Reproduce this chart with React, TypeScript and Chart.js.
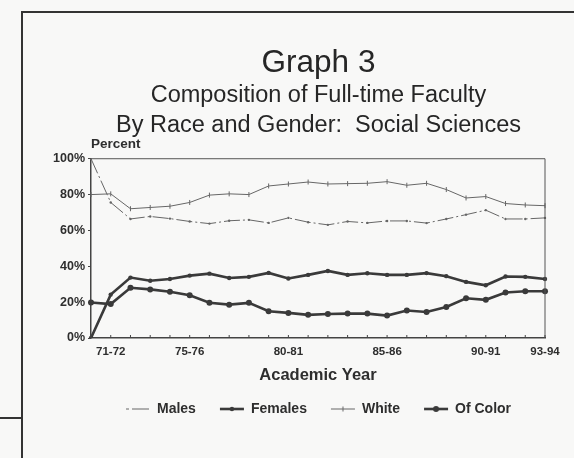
import React, { useEffect, useRef } from 'react';
import { Chart, registerables } from 'chart.js';

Chart.register(...registerables);

// ---------- data ----------
const YEARS = [
  '70-71', '71-72', '72-73', '73-74', '74-75', '75-76', '76-77', '77-78',
  '78-79', '79-80', '80-81', '81-82', '82-83', '83-84', '84-85', '85-86',
  '86-87', '87-88', '88-89', '89-90', '90-91', '91-92', '92-93', '93-94',
];
const SHOWN_YEAR_LABELS = ['71-72', '75-76', '80-81', '85-86', '90-91', '93-94'];

const MALES = [100, 75.6, 66.4, 67.8, 66.6, 65.0, 63.8, 65.4, 65.9, 64.2, 67.0, 64.6, 63.1, 65.0, 64.2, 65.3, 65.3, 64.1, 66.4, 68.8, 71.3, 66.4, 66.4, 67.0];
const FEMALES = [0, 24.2, 33.7, 31.9, 32.9, 34.8, 35.9, 33.5, 34.1, 36.3, 33.2, 35.2, 37.4, 35.2, 36.1, 35.2, 35.2, 36.2, 34.5, 31.3, 29.4, 34.3, 34.1, 32.9];
const WHITE = [80, 80.4, 72.1, 72.8, 73.5, 75.6, 79.7, 80.4, 80.0, 84.8, 85.9, 87.0, 85.9, 86.1, 86.3, 87.2, 85.2, 86.3, 82.8, 78.1, 78.9, 75.0, 74.2, 73.8];
const OF_COLOR = [19.8, 18.9, 28.0, 27.1, 25.8, 23.8, 19.7, 18.6, 19.6, 14.9, 14.0, 12.9, 13.4, 13.6, 13.6, 12.5, 15.3, 14.5, 17.3, 22.2, 21.3, 25.4, 26.1, 26.1];

const SERIES_NAMES = ['Males', 'Females', 'White', 'Of Color'];
const Y_MIN = 0;
const Y_MAX = 100;
const Y_STEP = 20;

const TITLE = 'Graph 3';
const SUBTITLE = ['Composition of Full-time Faculty', 'By Race and Gender:  Social Sciences'];
const X_TITLE = 'Academic Year';
const Y_CAPTION = 'Percent';

// ---------- styling ----------
const FONT = '"Liberation Sans", Arial, Helvetica, sans-serif';
const INK = '#2e2e2e';
const THICK = '#3a3a3a';
const THIN = '#666666';

type IconSpec = { dash: number[]; width: number; color: string; marker: 'none' | 'circle' | 'cross'; r: number };

function makeIcon(s: IconSpec): HTMLCanvasElement {
  const c = document.createElement('canvas');
  c.width = 26;
  c.height = 10;
  const ctx = c.getContext('2d')!;
  ctx.strokeStyle = s.color;
  ctx.lineWidth = s.width;
  ctx.setLineDash(s.dash);
  ctx.beginPath();
  ctx.moveTo(1, 5);
  ctx.lineTo(25, 5);
  ctx.stroke();
  ctx.setLineDash([]);
  if (s.marker === 'circle') {
    ctx.fillStyle = s.color;
    ctx.beginPath();
    ctx.arc(13, 5, s.r, 0, Math.PI * 2);
    ctx.fill();
  } else if (s.marker === 'cross') {
    ctx.lineWidth = 1;
    ctx.beginPath();
    ctx.moveTo(13, 5 - s.r);
    ctx.lineTo(13, 5 + s.r);
    ctx.stroke();
  }
  return c;
}

const framePlugin = {
  id: 'scanFrame',
  afterDatasetsDraw(chart: any) {
    const { ctx, chartArea, scales } = chart;
    const { left, right, top, bottom } = chartArea;
    ctx.save();
    ctx.strokeStyle = '#555';
    ctx.lineWidth = 1;
    ctx.beginPath();
    ctx.moveTo(left, top);
    ctx.lineTo(right, top);
    ctx.lineTo(right, bottom);
    ctx.stroke();
    // inward tick marks on the x axis, one per academic year
    ctx.strokeStyle = '#444';
    ctx.beginPath();
    for (let i = 0; i < YEARS.length; i++) {
      const px = scales.x.getPixelForValue(i);
      ctx.moveTo(px, bottom);
      ctx.lineTo(px, bottom - 3);
    }
    ctx.stroke();
    // "Percent" caption above the y axis
    ctx.font = `bold 13.5px ${FONT}`;
    ctx.fillStyle = INK;
    ctx.textBaseline = 'middle';
    ctx.textAlign = 'left';
    ctx.fillText(Y_CAPTION, left, top - 14);
    ctx.restore();
  },
};

export default function App() {
  const ref = useRef<HTMLCanvasElement | null>(null);

  useEffect(() => {
    if (!ref.current) return;
    const icons = [
      makeIcon({ dash: [3, 3, 14, 0], width: 1, color: THIN, marker: 'none', r: 0 }),
      makeIcon({ dash: [], width: 2.6, color: THICK, marker: 'circle', r: 2.2 }),
      makeIcon({ dash: [], width: 1, color: THIN, marker: 'cross', r: 2.5 }),
      makeIcon({ dash: [], width: 2.6, color: THICK, marker: 'circle', r: 3 }),
    ];

    const chart = new Chart(ref.current, {
      type: 'line',
      data: {
        labels: YEARS,
        datasets: [
          {
            label: SERIES_NAMES[0],
            data: MALES,
            borderColor: THIN,
            backgroundColor: THIN,
            borderWidth: 1,
            borderDash: [16, 3, 2, 3],
            pointRadius: 1.2,
            pointBorderWidth: 0,
          },
          {
            label: SERIES_NAMES[1],
            data: FEMALES,
            borderColor: THICK,
            backgroundColor: THICK,
            borderWidth: 2.6,
            pointRadius: 2.2,
            pointBorderWidth: 0,
          },
          {
            label: SERIES_NAMES[2],
            data: WHITE,
            borderColor: THIN,
            backgroundColor: THIN,
            borderWidth: 1,
            pointStyle: 'line',
            rotation: 90,
            pointRadius: 2.5,
            pointBorderWidth: 1,
          },
          {
            label: SERIES_NAMES[3],
            data: OF_COLOR,
            borderColor: THICK,
            backgroundColor: THICK,
            borderWidth: 2.6,
            pointRadius: 3,
            pointBorderWidth: 0,
          },
        ],
      },
      options: {
        responsive: false,
        animation: false,
        events: [],
        layout: { padding: { top: 0, left: 0, right: 0, bottom: 32 } },
        elements: { line: { tension: 0 } },
        scales: {
          x: {
            type: 'category',
            offset: false,
            grid: { display: false, drawTicks: false },
            border: { display: true, color: '#444', width: 1.5 },
            ticks: {
              autoSkip: false,
              maxRotation: 0,
              padding: 7,
              color: INK,
              font: { family: FONT, size: 11.5, weight: 'bold' },
              callback: (_v: any, i: number) => (SHOWN_YEAR_LABELS.includes(YEARS[i]) ? YEARS[i] : ''),
            },
            title: {
              display: true,
              text: X_TITLE,
              color: INK,
              font: { family: FONT, size: 16.5, weight: 'bold', lineHeight: 0.3 },
              padding: { top: 0, bottom: 0 },
            },
            afterFit: (scale: any) => {
              scale.height = 40;
            },
          },
          y: {
            min: Y_MIN,
            max: Y_MAX,
            grid: { display: true, drawOnChartArea: false, drawTicks: true, tickLength: 3, color: '#444' },
            border: { display: true, color: '#444', width: 1.5 },
            ticks: {
              stepSize: Y_STEP,
              padding: 3,
              color: INK,
              font: { family: FONT, size: 12.5, weight: 'bold' },
              callback: (v: any) => `${v}%`,
            },
            afterFit: (scale: any) => {
              scale.width = 91;
            },
          },
          // empty spacer on the right so the titles centre over the plot, as in the print
          spacer: {
            type: 'linear',
            position: 'right',
            display: true,
            grid: { display: false, drawTicks: false },
            border: { display: false },
            ticks: { display: false },
            afterFit: (scale: any) => {
              scale.width = 92;
            },
          },
        },
        plugins: {
          tooltip: { enabled: false },
          title: {
            display: true,
            text: TITLE,
            color: '#262626',
            font: { family: FONT, size: 31.5, weight: 'normal', lineHeight: 1.0 },
            padding: { top: 48, bottom: 0 },
          },
          subtitle: {
            display: true,
            text: SUBTITLE,
            color: '#262626',
            font: { family: FONT, size: 23.5, weight: 'normal', lineHeight: 1.26 },
            padding: { top: 1.5, bottom: 18.5 },
          },
          legend: {
            display: true,
            position: 'bottom',
            labels: {
              usePointStyle: true,
              pointStyleWidth: 24,
              padding: 24,
              color: INK,
              font: { family: FONT, size: 14, weight: 'bold' },
              generateLabels: (c: any) => {
                const items = Chart.defaults.plugins.legend.labels.generateLabels(c);
                return items.map((it: any, i: number) => ({ ...it, pointStyle: icons[i], rotation: 0 }));
              },
            },
          },
        },
      },
      plugins: [framePlugin],
    } as any);

    return () => chart.destroy();
  }, []);

  return (
    <div
      style={{
        position: 'fixed',
        left: 0,
        top: 0,
        width: 574,
        height: 458,
        overflow: 'hidden',
        background: '#f8f8f7',
      }}
    >
      <div style={{ position: 'absolute', left: 21, top: 11, right: 0, height: 2, background: '#333' }} />
      <div style={{ position: 'absolute', left: 21, top: 11, width: 2, bottom: 0, background: '#333' }} />
      <div style={{ position: 'absolute', left: 0, top: 417, width: 22, height: 2, background: '#333' }} />
      <canvas ref={ref} width={637} height={458} style={{ position: 'absolute', left: 0, top: 0, display: 'block' }} />
    </div>
  );
}
